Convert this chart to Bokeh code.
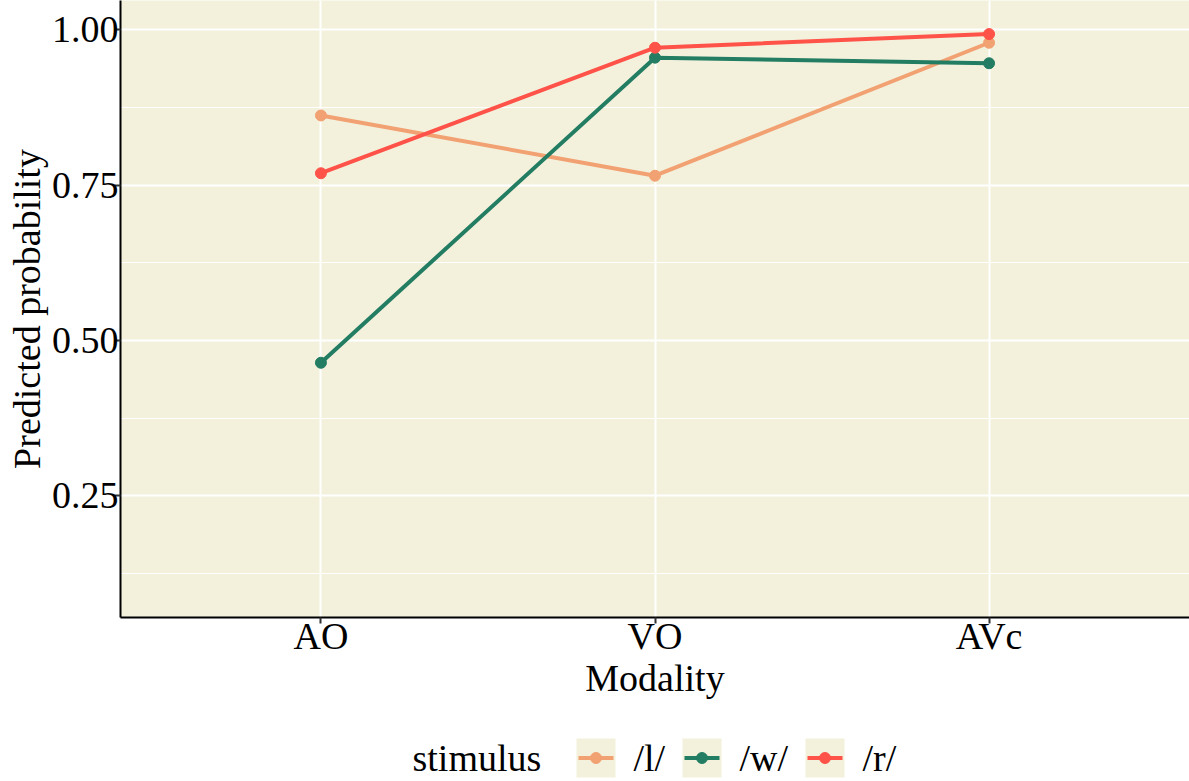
from bokeh.plotting import figure
from bokeh.layouts import column
from bokeh.models import FactorRange, Range1d, FixedTicker, NumeralTickFormatter
from bokeh.core.properties import value
from bokeh.embed import file_html
from bokeh.resources import INLINE

# ---- data ----
modality = ["AO", "VO", "AVc"]
stimulus = ["/l/", "/w/", "/r/"]
prob_l = [0.862, 0.765, 0.979]
prob_w = [0.464, 0.955, 0.946]
prob_r = [0.769, 0.971, 0.993]
y_ticks = [0.25, 0.50, 0.75, 1.00]
y_minor = [0.125, 0.375, 0.625, 0.875]

series = [prob_l, prob_w, prob_r]
colors = ["#F2A172", "#237D63", "#FF5248"]
PANEL_BG = "#F3F1DC"
FONT = "Liberation Serif"
FS = "38px"

W = 1189
MAIN_H = 703
LEG_H = 78
FRAME_LEFT = 120

p = figure(width=W, height=MAIN_H,
           x_range=FactorRange(factors=modality, range_padding=0.1, range_padding_units="absolute"),
           y_range=Range1d(0.054, 1.047),
           output_backend="svg", toolbar_location=None,
           min_border_left=FRAME_LEFT, min_border_right=0, min_border_top=0, min_border_bottom=86)
p.background_fill_color = PANEL_BG
p.border_fill_color = "white"
p.outline_line_color = None

for vals, col in zip(series, colors):
    p.line(modality, vals, line_color=col, line_width=4)
for vals, col in zip(series, colors):
    p.scatter(modality, vals, size=11, fill_color=col, line_color=col)

# grids
p.xgrid.grid_line_color = "white"
p.xgrid.grid_line_width = 2
p.ygrid.grid_line_color = "white"
p.ygrid.grid_line_width = 2
p.ygrid.minor_grid_line_color = "white"
p.ygrid.minor_grid_line_width = 1

# axes
p.yaxis.ticker = FixedTicker(ticks=y_ticks, minor_ticks=y_minor)
p.yaxis.formatter = NumeralTickFormatter(format="0.00")
p.yaxis.axis_label = "Predicted probability"
p.xaxis.axis_label = "Modality"

for ax in (p.xaxis[0], p.yaxis[0]):
    ax.axis_line_color = "black"
    ax.axis_line_width = 2
    ax.major_tick_line_color = "#333333"
    ax.major_tick_line_width = 2
    ax.major_tick_in = 0
    ax.major_tick_out = 6
    ax.minor_tick_line_color = None
    ax.major_label_text_font = FONT
    ax.major_label_text_font_size = FS
    ax.major_label_text_color = "black"
    ax.axis_label_text_font = FONT
    ax.axis_label_text_font_size = FS
    ax.axis_label_text_font_style = "normal"
    ax.axis_label_text_color = "black"

p.xaxis.major_label_standoff = -9
p.xaxis.axis_label_standoff = -3
p.yaxis.major_label_standoff = -4
p.yaxis.axis_label_standoff = 1

# ---- legend (drawn in its own strip below the panel) ----
strip_top = MAIN_H
strip_bot = MAIN_H + LEG_H
key_left = [576, 682, 805]
key_size = 39
key_top = 738
label_gap = 57
text_y = 757

lg = figure(width=W, height=LEG_H,
            x_range=Range1d(FRAME_LEFT, W), y_range=Range1d(strip_bot, strip_top),
            x_axis_type=None, y_axis_type=None,
            output_backend="svg", toolbar_location=None,
            min_border_left=FRAME_LEFT, min_border_right=0, min_border_top=0, min_border_bottom=0)
lg.grid.visible = False
lg.outline_line_color = None
lg.background_fill_color = "white"
lg.border_fill_color = "white"

kl = key_left
kr = [k + key_size for k in kl]
kc = [k + key_size / 2 for k in kl]
ymid = key_top + key_size / 2

lg.text(x=[412], y=[text_y], text=["stimulus"], text_font=value(FONT),
        text_font_size=FS, text_baseline="middle", text_align="left", text_color="black")
lg.quad(left=kl, right=kr, top=[key_top] * 3, bottom=[key_top + key_size] * 3,
        fill_color=PANEL_BG, line_color=None)
lg.segment(x0=[k + 2 for k in kl], x1=[k - 2 for k in kr], y0=[ymid] * 3, y1=[ymid] * 3,
           line_color=colors, line_width=4)
lg.scatter(x=kc, y=[ymid] * 3, size=11, fill_color=colors, line_color=colors)
lg.text(x=[k + label_gap for k in kl], y=[text_y] * 3, text=stimulus, text_font=value(FONT),
        text_font_size=FS, text_baseline="middle", text_align="left", text_color="black")

layout = column(p, lg, spacing=0)
open("out.html", "w").write(file_html(layout, INLINE))
